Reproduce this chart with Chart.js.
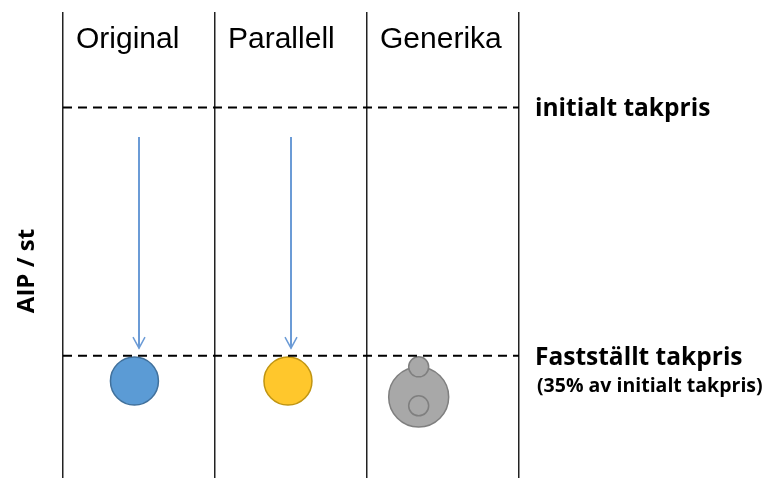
<!DOCTYPE html>
<html>
<head>
<meta charset="utf-8">
<script src="https://cdn.jsdelivr.net/npm/chart.js@4.4.1/dist/chart.umd.min.js"></script>
<style>
  html, body { margin: 0; padding: 0; background: #fff; }
  #wrap { width: 766px; height: 478px; }
</style>
</head>
<body>
<div id="wrap"><canvas id="chart" width="766" height="478"></canvas></div>
<script>
  const categories = ['Original', 'Parallell', 'Generika'];
  const priceLevels = [100, 35];
  const levelLabels = ['initialt takpris', 'Fastställt takpris'];
  const levelNotes = ['', '(35% av initialt takpris)'];

  const arrowX = [0.5, 1.5];
  const arrowFrom = [92.3, 92.3];
  const arrowTo = [37, 37];

  const dotX = [0.47, 1.48];
  const dotY = [28.4, 28.4];
  const dotColors = ['#5b9bd5', '#ffc72c'];
  const dotBorders = ['#41719c', '#c09512'];

  const genericX = 2.34;
  const genericY = [24.2, 32.1, 21.9];
  const genericR = [30, 10, 10];

  const datasets = [];

  priceLevels.forEach(v => {
    datasets.push({
      type: 'line',
      data: [{ x: 0, y: v }, { x: 3, y: v }],
      borderColor: '#000',
      borderWidth: 2.2,
      borderDash: [9, 6],
      pointRadius: 0
    });
  });

  arrowX.forEach((x, i) => {
    datasets.push({
      type: 'line',
      arrow: true,
      data: [{ x: x, y: arrowFrom[i] }, { x: x, y: arrowTo[i] }],
      borderColor: '#6b9bd6',
      borderWidth: 2,
      pointRadius: 0
    });
  });

  dotX.forEach((x, i) => {
    datasets.push({
      type: 'scatter',
      data: [{ x: x, y: dotY[i] }],
      pointRadius: 24,
      backgroundColor: dotColors[i],
      borderColor: dotBorders[i],
      borderWidth: 1.5
    });
  });

  genericY.forEach((y, i) => {
    datasets.push({
      type: 'scatter',
      order: genericY.length - i,
      data: [{ x: genericX, y: y }],
      pointRadius: genericR[i],
      backgroundColor: '#a8a8a8',
      borderColor: '#7f7f7f',
      borderWidth: 1.5
    });
  });

  const overlay = {
    id: 'overlay',
    afterDatasetsDraw(chart) {
      const c = chart.ctx;
      const xs = chart.scales.x;
      const ys = chart.scales.y;

      chart.data.datasets.forEach((ds, i) => {
        if (!ds.arrow) return;
        const tip = chart.getDatasetMeta(i).data[1];
        c.save();
        c.strokeStyle = ds.borderColor;
        c.lineWidth = 1.5;
        c.beginPath();
        c.moveTo(tip.x - 6, tip.y - 11);
        c.lineTo(tip.x, tip.y);
        c.lineTo(tip.x + 6, tip.y - 11);
        c.stroke();
        c.restore();
      });

      c.save();
      c.fillStyle = '#000';
      c.textBaseline = 'alphabetic';
      c.textAlign = 'left';
      c.font = '30px "Liberation Sans", Arial, sans-serif';
      categories.forEach((cat, i) => {
        c.fillText(cat, xs.getPixelForValue(i) + 13, 48);
      });

      c.textBaseline = 'middle';
      priceLevels.forEach((v, i) => {
        const py = ys.getPixelForValue(v);
        c.font = 'bold 24.5px "Open Sans", sans-serif';
        c.fillText(levelLabels[i], xs.right + 16, py + 2);
        if (levelNotes[i]) {
          c.font = 'bold 19.5px "Open Sans", sans-serif';
          c.fillText(levelNotes[i], xs.right + 18, py + 31);
        }
      });

      c.translate(27, 271);
      c.rotate(-Math.PI / 2);
      c.textAlign = 'center';
      c.font = 'bold 24px "Open Sans", sans-serif';
      c.fillText('AIP / st', 0, 0);
      c.restore();
    }
  };

  new Chart(document.getElementById('chart'), {
    data: { datasets: datasets },
    options: {
      responsive: false,
      animation: false,
      events: [],
      layout: { autoPadding: false, padding: { left: 63, right: 247, top: 12, bottom: 0 } },
      plugins: { legend: { display: false }, tooltip: { enabled: false } },
      scales: {
        x: {
          type: 'linear',
          min: 0,
          max: 3,
          ticks: { display: false, stepSize: 1 },
          grid: { color: '#222', lineWidth: 1.5, drawTicks: false },
          border: { display: false }
        },
        y: {
          type: 'linear',
          display: false,
          min: 3,
          max: 125
        }
      }
    },
    plugins: [overlay]
  });
</script>
</body>
</html>
